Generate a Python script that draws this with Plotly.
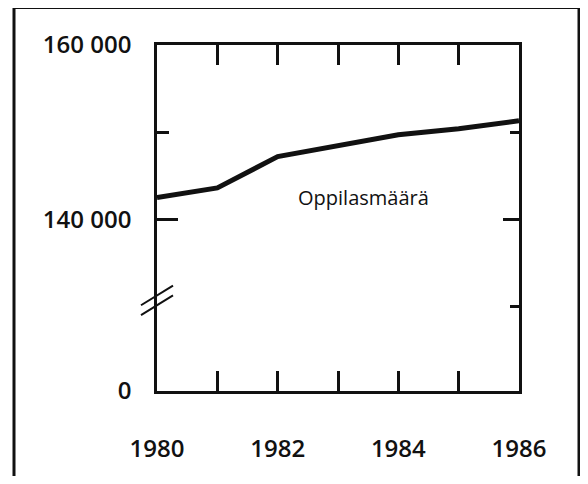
import plotly.graph_objects as go

# Oppilasmäärä 1980–1986 (luettu kuvasta)
vuodet = [1980, 1981, 1982, 1983, 1984, 1985, 1986]
oppilaat = [142500, 143600, 147200, 148500, 149700, 150400, 151300]

# Y-akseli on katkaistu: alareuna kuvaa nollaa
y_ala = 120300
y_ticks = [y_ala, 140000, 160000]
y_labels = ['0', '140 000', '160 000']
x_ticks = [1980, 1982, 1984, 1986]

FONT = 'Open Sans'
INK = '#111111'
BODY = 8  # sivun oletusmarginaali

fig = go.Figure()
fig.add_trace(go.Scatter(x=vuodet, y=oppilaat, mode='lines',
                         line=dict(color=INK, width=5), showlegend=False,
                         hoverinfo='skip'))
# tyhjä jälki oikeaa akselia varten
fig.add_trace(go.Scatter(x=[vuodet[0]], y=[y_ala], yaxis='y2', mode='markers',
                         marker=dict(opacity=0), showlegend=False, hoverinfo='skip'))

fig.add_annotation(x=1983.43, y=142500, text='Oppilasmäärä', showarrow=False,
                   font=dict(family=FONT, size=20, color=INK))

# kuva mahtuu ikkunaan ilman vierityspalkkeja
fig.update_layout(
    width=588 - 2 * BODY, height=484 - 2 * BODY,
    margin=dict(l=157 - BODY, r=69 - BODY, t=45 - BODY, b=88 - BODY),
    paper_bgcolor='white', plot_bgcolor='white',
    font=dict(family=FONT, color=INK),
    xaxis=dict(range=[1980, 1986], tickvals=x_ticks,
               ticktext=[str(v) for v in x_ticks],
               showgrid=False, zeroline=False,
               showline=True, linecolor=INK, linewidth=2.5, mirror='ticks',
               ticks='inside', ticklen=20, tickwidth=2.5, tickcolor=INK,
               minor=dict(tickvals=[1981, 1983, 1985], ticks='inside',
                          ticklen=20, tickwidth=2.5, tickcolor=INK),
               ticklabelstandoff=34,
               tickfont=dict(family=FONT, size=24, weight=600)),
    yaxis=dict(range=[y_ala, 160000], tickvals=y_ticks, ticktext=y_labels,
               showgrid=False, zeroline=False,
               showline=True, linecolor=INK, linewidth=2.5, mirror=True,
               ticks='inside', ticklen=21, tickwidth=2.5, tickcolor=INK,
               minor=dict(tickvals=[150000], ticks='inside',
                          ticklen=12, tickwidth=2.5, tickcolor=INK),
               ticklabelstandoff=18,
               tickfont=dict(family=FONT, size=24, weight=600)),
    yaxis2=dict(range=[y_ala, 160000], overlaying='y', side='right',
                tickvals=[140000], showticklabels=False,
                showgrid=False, zeroline=False, showline=False,
                ticks='inside', ticklen=16, tickwidth=2.5, tickcolor=INK,
                minor=dict(tickvals=[130000, 150000], ticks='inside',
                           ticklen=9, tickwidth=2.5, tickcolor=INK)),
)

# katkosmerkki y-akselilla
for dy in (0, 10):
    fig.add_shape(type='line', xref='paper', yref='paper',
                  x0=(141 - 157) / 362, x1=(173 - 157) / 362,
                  y0=(396 - 309 - dy) / 351, y1=(396 - 289 - dy) / 351,
                  line=dict(color=INK, width=2))

# ulkokehys
fig.add_shape(type='rect', xref='paper', yref='paper',
              x0=(14 - 157) / 362, x1=(579 - 157) / 362,
              y0=(396 - 500) / 351, y1=(396 - 7) / 351,
              line=dict(color=INK, width=3), fillcolor='rgba(0,0,0,0)')

fig.write_html('out.html')
